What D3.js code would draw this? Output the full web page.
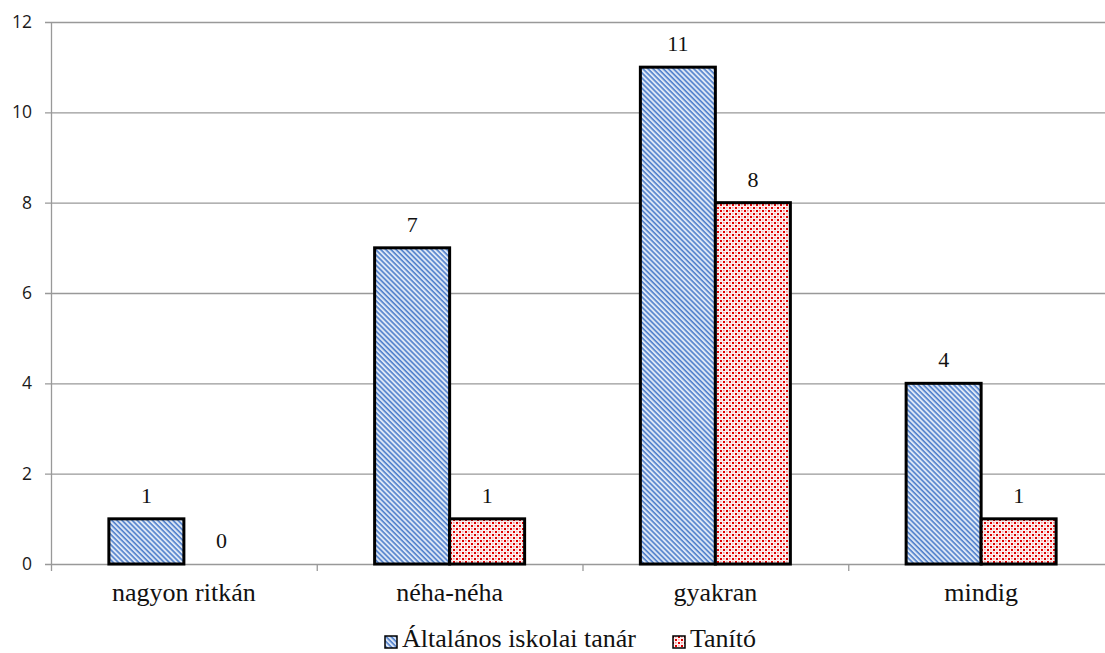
<!DOCTYPE html>
<html><head><meta charset="utf-8">
<script src="https://cdn.jsdelivr.net/npm/d3@7"></script>
<style>body{margin:0;background:#fff;} svg{display:block;}</style>
</head><body>
<svg id="c" width="1105" height="653"></svg>
<script>
const categories = ["nagyon ritkán", "néha-néha", "gyakran", "mindig"];
const seriesNames = ["Általános iskolai tanár", "Tanító"];
const tanarValues = [1, 7, 11, 4];
const tanitoValues = [0, 1, 8, 1];
const yTicks = [0, 2, 4, 6, 8, 10, 12];

const serif = "'Liberation Serif', 'Times New Roman', serif";
const svg = d3.select("#c");
const defs = svg.append("defs");
// blue diagonal stripes (\ direction)
const pb = defs.append("pattern").attr("id","pBlue").attr("patternUnits","userSpaceOnUse")
  .attr("width",3.6).attr("height",3.6).attr("patternTransform","rotate(45)");
pb.append("rect").attr("width",3.6).attr("height",3.6).attr("fill","#dde7f6");
pb.append("rect").attr("width",3.6).attr("height",1.6).attr("fill","#4f7fcb");
// red dots
const pr = defs.append("pattern").attr("id","pRed").attr("patternUnits","userSpaceOnUse")
  .attr("width",6).attr("height",6);
pr.append("rect").attr("width",6).attr("height",6).attr("fill","#fdf0f0");
pr.append("rect").attr("x",0).attr("y",0).attr("width",2).attr("height",2).attr("fill","#e00000");
pr.append("rect").attr("x",3).attr("y",3).attr("width",2).attr("height",2).attr("fill","#e00000");
pr.append("rect").attr("x",3).attr("y",0).attr("width",1.5).attr("height",1.5).attr("fill","#f29090");
pr.append("rect").attr("x",0).attr("y",3).attr("width",1.5).attr("height",1.5).attr("fill","#f6b0b0");

const pLeft = 51, pRight = 1114, pTop = 22, pBottom = 564;
const x = d3.scaleBand().domain(categories).range([pLeft, pRight]);
const y = d3.scaleLinear().domain([0, 12]).range([pBottom, pTop]);
const barW = 75;

// gridlines
svg.append("g").selectAll("line").data(yTicks).join("line")
  .attr("x1", pLeft-6).attr("x2", pRight).attr("y1", d=>y(d)+0.5).attr("y2", d=>y(d)+0.5)
  .attr("stroke","#999").attr("stroke-width",1.3);
// y axis line
svg.append("line").attr("x1",pLeft+0.5).attr("x2",pLeft+0.5).attr("y1",pTop).attr("y2",pBottom)
  .attr("stroke","#999").attr("stroke-width",1.3);
// category ticks
svg.append("g").selectAll("line").data(categories.concat(["_end"])).join("line")
  .attr("x1", (d,i)=> pLeft + i*x.bandwidth()+0.5).attr("x2",(d,i)=> pLeft + i*x.bandwidth()+0.5)
  .attr("y1", pBottom).attr("y2", pBottom+7).attr("stroke","#999").attr("stroke-width",1.3);

// y tick labels
svg.append("g").selectAll("text").data(yTicks).join("text")
  .attr("x", 32).attr("y", d=>y(d)+6).attr("text-anchor","end")
  .attr("font-family","'Open Sans', 'Liberation Sans', sans-serif").attr("font-size",17.5).attr("fill","#1a1a1a")
  .text(d=>d);

// category labels
svg.append("g").selectAll("text").data(categories).join("text")
  .attr("x", d=>x(d)+x.bandwidth()/2).attr("y", 601).attr("text-anchor","middle")
  .attr("font-family",serif).attr("font-size",26).attr("fill","#111")
  .text(d=>d);

const series = [
  {name: seriesNames[0], values: tanarValues, fill: "url(#pBlue)", off: -barW},
  {name: seriesNames[1], values: tanitoValues, fill: "url(#pRed)", off: 0}
];
series.forEach(s=>{
  const g = svg.append("g");
  const data = categories.map((c,i)=>({c, v: s.values[i]}));
  g.selectAll("rect").data(data.filter(d=>d.v>0)).join("rect")
    .attr("x", d=> x(d.c)+x.bandwidth()/2 + s.off)
    .attr("y", d=> y(d.v))
    .attr("width", barW)
    .attr("height", d=> pBottom - y(d.v))
    .attr("fill", s.fill).attr("stroke","#000").attr("stroke-width",3);
  g.selectAll("text").data(data).join("text")
    .attr("x", d=> x(d.c)+x.bandwidth()/2 + s.off + barW/2)
    .attr("y", d=> y(d.v) - 16)
    .attr("text-anchor","middle")
    .attr("font-family",serif).attr("font-size",22).attr("fill","#111")
    .text(d=> d.v);
});

// legend
const legend = [
  {name: seriesNames[0], fill: "url(#pBlue)", x: 385},
  {name: seriesNames[1], fill: "url(#pRed)", x: 673}
];
const lg = svg.append("g");
legend.forEach(l=>{
  lg.append("rect").attr("x", l.x).attr("y", 636).attr("width", 12).attr("height", 12)
    .attr("fill", l.fill).attr("stroke","#000").attr("stroke-width",1.5);
  lg.append("text").attr("x", l.x+17).attr("y", 647)
    .attr("font-family",serif).attr("font-size",26).attr("fill","#111")
    .text(l.name);
});
</script>
</body></html>
